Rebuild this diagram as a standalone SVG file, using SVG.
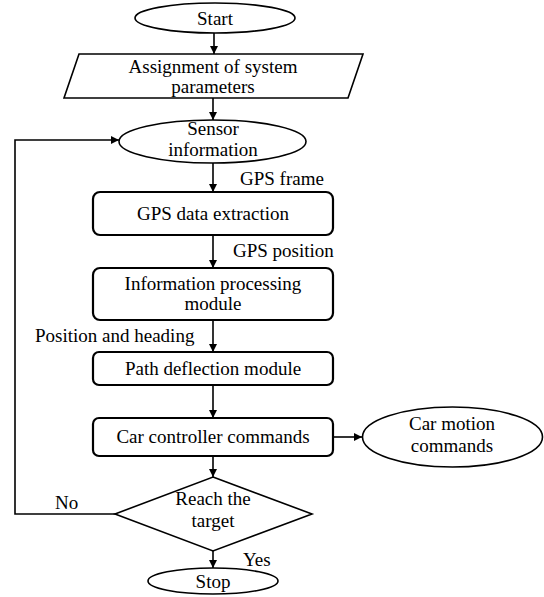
<svg xmlns="http://www.w3.org/2000/svg" width="544" height="597" viewBox="0 0 544 597">
<defs>
<marker id="arr" viewBox="0 0 10 10" refX="10" refY="5" markerWidth="8" markerHeight="8" markerUnits="userSpaceOnUse" orient="auto">
<path d="M0,0 L10,5 L0,10 z" fill="#000"/>
</marker>
</defs>
<style>
.sh{fill:#fff;stroke:#000;stroke-width:1.6}
.bx{fill:#fff;stroke:#000;stroke-width:2.2}
.t{font-family:"Liberation Serif","Times New Roman",serif;font-size:19px;fill:#000}
.m{text-anchor:middle}
.c{fill:none;stroke:#000;stroke-width:1.6}
</style>
<rect width="544" height="597" fill="#fff"/>
<g id="connectors">
<line class="c" x1="214" y1="33" x2="214" y2="54" marker-end="url(#arr)"/>
<line class="c" x1="213" y1="98" x2="213" y2="120" marker-end="url(#arr)"/>
<line class="c" x1="213" y1="163" x2="213" y2="192" marker-end="url(#arr)"/>
<line class="c" x1="213" y1="235" x2="213" y2="268" marker-end="url(#arr)"/>
<line class="c" x1="213" y1="320" x2="213" y2="352" marker-end="url(#arr)"/>
<line class="c" x1="213" y1="385" x2="213" y2="418" marker-end="url(#arr)"/>
<line class="c" x1="213" y1="456" x2="213" y2="477" marker-end="url(#arr)"/>
<line class="c" x1="333" y1="437" x2="362" y2="437" marker-end="url(#arr)"/>
<line class="c" x1="213" y1="551" x2="213" y2="568" marker-end="url(#arr)"/>
<polyline class="c" points="115,514 15,514 15,140 119,140" marker-end="url(#arr)"/>
<text class="t" x="240" y="185">GPS frame</text>
<text class="t" x="233" y="257">GPS position</text>
<text class="t" x="35" y="342">Position and heading</text>
<text class="t" x="55" y="509">No</text>
<text class="t" x="243" y="566">Yes</text>
</g>
<g id="start">
<ellipse class="sh" cx="215" cy="18" rx="80" ry="15"/>
<text class="t m" x="215" y="25">Start</text>
</g>
<g id="assign">
<polygon class="sh" points="79,54 363,54 348,98 64,98"/>
<text class="t m" x="213" y="73">Assignment of system</text>
<text class="t m" x="213" y="93">parameters</text>
</g>
<g id="sensor">
<ellipse class="sh" cx="212.5" cy="141.5" rx="93.5" ry="21.5"/>
<text class="t m" x="213" y="135">Sensor</text>
<text class="t m" x="213" y="156">information</text>
</g>
<g id="gps">
<rect class="bx" x="93" y="192" width="240" height="43" rx="7"/>
<text class="t m" x="213" y="220">GPS data extraction</text>
</g>
<g id="info">
<rect class="bx" x="93" y="268" width="240" height="52" rx="7"/>
<text class="t m" x="213" y="290">Information processing</text>
<text class="t m" x="213" y="310">module</text>
</g>
<g id="path">
<rect class="bx" x="93" y="352" width="240" height="33" rx="6"/>
<text class="t m" x="213" y="375">Path deflection module</text>
</g>
<g id="car">
<rect class="bx" x="93" y="418" width="240" height="38" rx="6"/>
<text class="t m" x="213" y="443">Car controller commands</text>
</g>
<g id="motion">
<ellipse class="sh" cx="452.5" cy="437" rx="90" ry="30"/>
<text class="t m" x="452" y="430">Car motion</text>
<text class="t m" x="452" y="452">commands</text>
</g>
<g id="decision">
<polygon class="sh" points="213,477 312,514 213,551 115,514"/>
<text class="t m" x="213" y="505">Reach the</text>
<text class="t m" x="213" y="527">target</text>
</g>
<g id="stop">
<ellipse class="sh" cx="213" cy="581" rx="65" ry="13"/>
<text class="t m" x="213" y="588">Stop</text>
</g>
</svg>
